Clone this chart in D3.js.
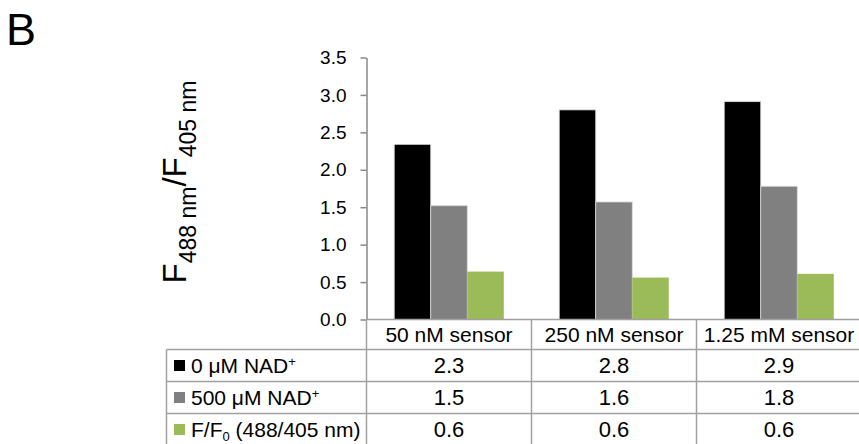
<!DOCTYPE html>
<html>
<head>
<meta charset="utf-8">
<script src="https://cdn.jsdelivr.net/npm/d3@7"></script>
<style>
  body { margin: 0; background: #fff; }
  svg { display: block; font-family: "Liberation Sans", Arial, sans-serif; }
</style>
</head>
<body>
<div id="chart"></div>
<script>
const categories = ["50 nM sensor", "250 nM sensor", "1.25 mM sensor"];
const seriesKeys = ["nad0", "nad500", "ratio"];
// label pieces: [text, "" | "sup" | "sub"]
const seriesLabels = [
  [["0 μM NAD", ""], ["+", "sup"]],
  [["500 μM NAD", ""], ["+", "sup"]],
  [["F/F", ""], ["0", "sub"], [" (488/405 nm)", ""]]
];
const seriesColors = ["#000000", "#808080", "#9bbb59"];
const nad0 = [2.34, 2.80, 2.91];
const nad500 = [1.52, 1.57, 1.78];
const ratio = [0.64, 0.56, 0.61];
const yTicks = [0, 0.5, 1.0, 1.5, 2.0, 2.5, 3.0, 3.5];

const width = 859, height = 444;
const values = { nad0, nad500, ratio };
const rows = categories.map((c, i) => ({ cat: c, nad0: nad0[i], nad500: nad500[i], ratio: ratio[i] }));

const svg = d3.select("#chart").append("svg")
  .attr("width", width)
  .attr("height", height);

const axisX = 366.5, tableLeft = 166.5, plotRight = 861.5;
const y = d3.scaleLinear().domain([0, 3.5]).range([319.5, 57.5]);
const x0 = d3.scaleBand().domain(categories).range([axisX, plotRight]);
const bw = x0.bandwidth();
const x1 = d3.scaleBand().domain(seriesKeys).range([bw * 0.168, bw * 0.832]);

// panel letter
svg.append("text")
  .attr("x", 6).attr("y", 45)
  .attr("font-size", 45)
  .text("B");

// y axis title
const title = svg.append("text")
  .attr("transform", "translate(186,182) rotate(-90)")
  .attr("text-anchor", "middle")
  .attr("font-size", 33);
title.append("tspan").text("F");
title.append("tspan").attr("font-size", 23).attr("dy", 10).text("488 nm");
title.append("tspan").attr("dy", -10).text("/F");
title.append("tspan").attr("font-size", 23).attr("dy", 10).text("405 nm");

// bars
const groups = svg.append("g").selectAll("g")
  .data(rows)
  .join("g")
  .attr("transform", d => `translate(${x0(d.cat)},0)`);

groups.selectAll("rect")
  .data(d => seriesKeys.map((k, i) => ({ key: k, value: d[k], i })))
  .join("rect")
  .attr("x", d => x1(d.key))
  .attr("width", x1.bandwidth())
  .attr("y", d => y(d.value))
  .attr("height", d => y(0) - y(d.value))
  .attr("fill", d => seriesColors[d.i])
  .attr("stroke", d => d.i < 2 ? "#d9d9d9" : "none")
  .attr("stroke-width", 0.8);

// y axis
const yAxis = svg.append("g")
  .attr("transform", `translate(${axisX},0)`)
  .call(d3.axisLeft(y).tickValues(yTicks).tickFormat(d3.format(".1f"))
    .tickSize(6).tickSizeOuter(0).tickPadding(14));
yAxis.select(".domain").attr("stroke", "#888").attr("stroke-width", 1.5);
yAxis.selectAll(".tick line").attr("stroke", "#888").attr("stroke-width", 1.5);
yAxis.selectAll(".tick text")
  .attr("font-size", 19)
  .attr("fill", "#000")
  .attr("font-family", "Liberation Sans, Arial, sans-serif");

// data table
const lineColor = "#a0a0a0";
const headerTop = y(0), headerBottom = 349.5, rowH = 32;
const table = svg.append("g")
  .attr("stroke", lineColor)
  .attr("stroke-width", 1.5)
  .attr("fill", "none");

// horizontal lines
table.append("line").attr("x1", axisX).attr("x2", plotRight).attr("y1", headerTop).attr("y2", headerTop);
d3.range(seriesKeys.length + 1).forEach(i => {
  const yy = headerBottom + i * rowH;
  table.append("line").attr("x1", tableLeft).attr("x2", plotRight).attr("y1", yy).attr("y2", yy);
});
const tableBottom = headerBottom + seriesKeys.length * rowH;
// vertical lines
table.append("line").attr("x1", tableLeft).attr("x2", tableLeft).attr("y1", headerBottom).attr("y2", tableBottom);
categories.forEach(c => {
  table.append("line").attr("x1", x0(c)).attr("x2", x0(c)).attr("y1", headerTop).attr("y2", tableBottom);
});
table.append("line").attr("x1", plotRight).attr("x2", plotRight).attr("y1", headerTop).attr("y2", tableBottom);

// header labels
svg.append("g").selectAll("text")
  .data(categories)
  .join("text")
  .attr("x", d => x0(d) + bw / 2)
  .attr("y", (headerTop + headerBottom) / 2 + 7)
  .attr("text-anchor", "middle")
  .attr("font-size", 21)
  .text(d => d);

// row labels with swatches
const fmt = d3.format(".1f");
seriesKeys.forEach((k, i) => {
  const cy = headerBottom + i * rowH + rowH / 2;
  svg.append("rect")
    .attr("x", 174).attr("y", cy - 5.5)
    .attr("width", 11).attr("height", 11)
    .attr("fill", seriesColors[i]);
  const t = svg.append("text")
    .attr("x", 191).attr("y", cy + 7.5)
    .attr("font-size", 21);
  let shift = 0;
  seriesLabels[i].forEach(([txt, kind]) => {
    const ts = t.append("tspan").text(txt);
    let target = 0;
    if (kind === "sup") { ts.attr("font-size", 13); target = -7; }
    if (kind === "sub") { ts.attr("font-size", 13); target = 4; }
    ts.attr("dy", target - shift);
    shift = target;
  });
  svg.append("g").selectAll("text")
    .data(values[k])
    .join("text")
    .attr("x", (d, j) => x0(categories[j]) + bw / 2)
    .attr("y", cy + 7.5)
    .attr("text-anchor", "middle")
    .attr("font-size", 22)
    .text(d => fmt(d));
});
</script>
</body>
</html>
